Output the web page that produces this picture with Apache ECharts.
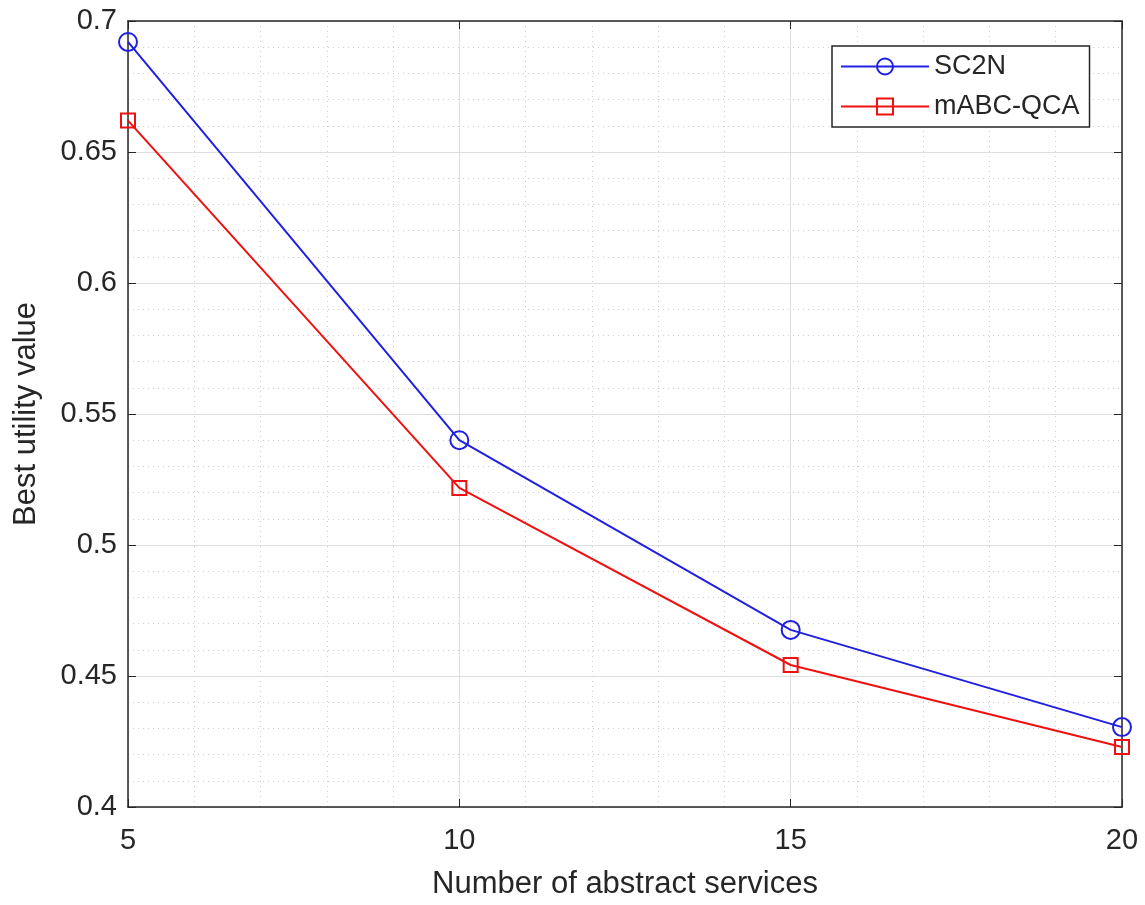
<!DOCTYPE html>
<html>
<head>
<meta charset="utf-8">
<script src="https://cdn.jsdelivr.net/npm/echarts@6/dist/echarts.min.js"></script>
<style>
  html, body { margin: 0; padding: 0; background: #fff; }
  #chart { width: 1145px; height: 905px; }
</style>
</head>
<body>
<div id="chart"></div>
<script>
// number of abstract services (x)
var services = [5, 10, 15, 20]
// best utility value per method
var sc2n = [0.692, 0.540, 0.4676, 0.4305]
var mabcQca = [0.662, 0.5218, 0.4542, 0.4229]
var yTicks = [0.4, 0.45, 0.5, 0.55, 0.6, 0.65, 0.7]

var axisColor = '#262626'
var fontFamily = 'Liberation Sans, Arial, sans-serif'

var toPairs = function(ys) {
  return services.map(function(x, i) { return [x, ys[i]] })
}

// box axes (top / right) only draw the frame and inward ticks
var frameAxis = function(pos) {
  return {
    type: 'value',
    position: pos,
    min: pos === 'top' ? services[0] : yTicks[0],
    max: pos === 'top' ? services[services.length - 1] : yTicks[yTicks.length - 1],
    interval: pos === 'top' ? 5 : 0.05,
    axisLine: { show: true, onZero: false, lineStyle: { color: axisColor, width: 1.5 } },
    axisTick: { show: true, inside: true, length: 8, lineStyle: { color: axisColor } },
    axisLabel: { show: false },
    splitLine: { show: false }
  }
}

var option = {
  backgroundColor: '#fff',
  animation: false,
  grid: {
    left: 128,
    right: 23,
    top: 21,
    bottom: 98,
    outerBoundsMode: 'none'
  },
  legend: {
    orient: 'vertical',
    left: 832,
    top: 46,
    padding: [7, 10, 7, 8],
    itemGap: 13,
    itemWidth: 88,
    itemHeight: 20,
    backgroundColor: '#fff',
    borderColor: axisColor,
    borderWidth: 1.5,
    borderRadius: 0,
    textStyle: { fontSize: 27, color: axisColor, fontFamily: fontFamily },
    data: ['SC2N', 'mABC-QCA']
  },
  xAxis: [{
    type: 'value',
    min: 5,
    max: 20,
    interval: 5,
    name: 'Number of abstract services',
    nameLocation: 'middle',
    nameGap: 62,
    nameTextStyle: { fontSize: 31, color: axisColor, fontFamily: fontFamily },
    axisLine: { show: true, onZero: false, lineStyle: { color: axisColor, width: 1.5 } },
    axisTick: { show: true, inside: true, length: 8, lineStyle: { color: axisColor } },
    axisLabel: { fontSize: 29, color: axisColor, margin: 19, fontFamily: fontFamily },
    splitLine: { show: true, lineStyle: { color: '#dedede', width: 1 } },
    minorTick: { show: false, splitNumber: 5 },
    minorSplitLine: { show: true, lineStyle: { color: '#cfcfcf', type: [1, 4], width: 1 } }
  }, frameAxis('top')],
  yAxis: [{
    type: 'value',
    min: 0.4,
    max: 0.7,
    interval: 0.05,
    name: 'Best utility value',
    nameLocation: 'middle',
    nameGap: 86,
    nameRotate: 90,
    nameTextStyle: { fontSize: 31, color: axisColor, fontFamily: fontFamily },
    axisLine: { show: true, onZero: false, lineStyle: { color: axisColor, width: 1.5 } },
    axisTick: { show: true, inside: true, length: 8, lineStyle: { color: axisColor } },
    axisLabel: {
      fontSize: 29,
      color: axisColor,
      margin: 11,
      fontFamily: fontFamily,
      formatter: function(v) { return String(+v.toFixed(2)) }
    },
    splitLine: { show: true, lineStyle: { color: '#dedede', width: 1 } },
    minorTick: { show: false, splitNumber: 5 },
    minorSplitLine: { show: true, lineStyle: { color: '#cfcfcf', type: [1, 4], width: 1 } }
  }, frameAxis('right')],
  series: [{
    name: 'SC2N',
    type: 'line',
    data: toPairs(sc2n),
    symbol: 'circle',
    symbolSize: 18,
    color: '#2020e0',
    lineStyle: { width: 2, color: '#2020e0' },
    itemStyle: { color: 'rgba(255,255,255,0)', borderColor: '#2020e0', borderWidth: 2 },
    z: 3
  }, {
    name: 'mABC-QCA',
    type: 'line',
    data: toPairs(mabcQca),
    symbol: 'rect',
    symbolSize: 14,
    color: '#ee1111',
    lineStyle: { width: 2, color: '#ee1111' },
    itemStyle: { color: 'rgba(255,255,255,0)', borderColor: '#ee1111', borderWidth: 2 },
    z: 3
  }]
}

var myChart = echarts.init(document.getElementById('chart'))
myChart.setOption(option)
</script>
</body>
</html>
